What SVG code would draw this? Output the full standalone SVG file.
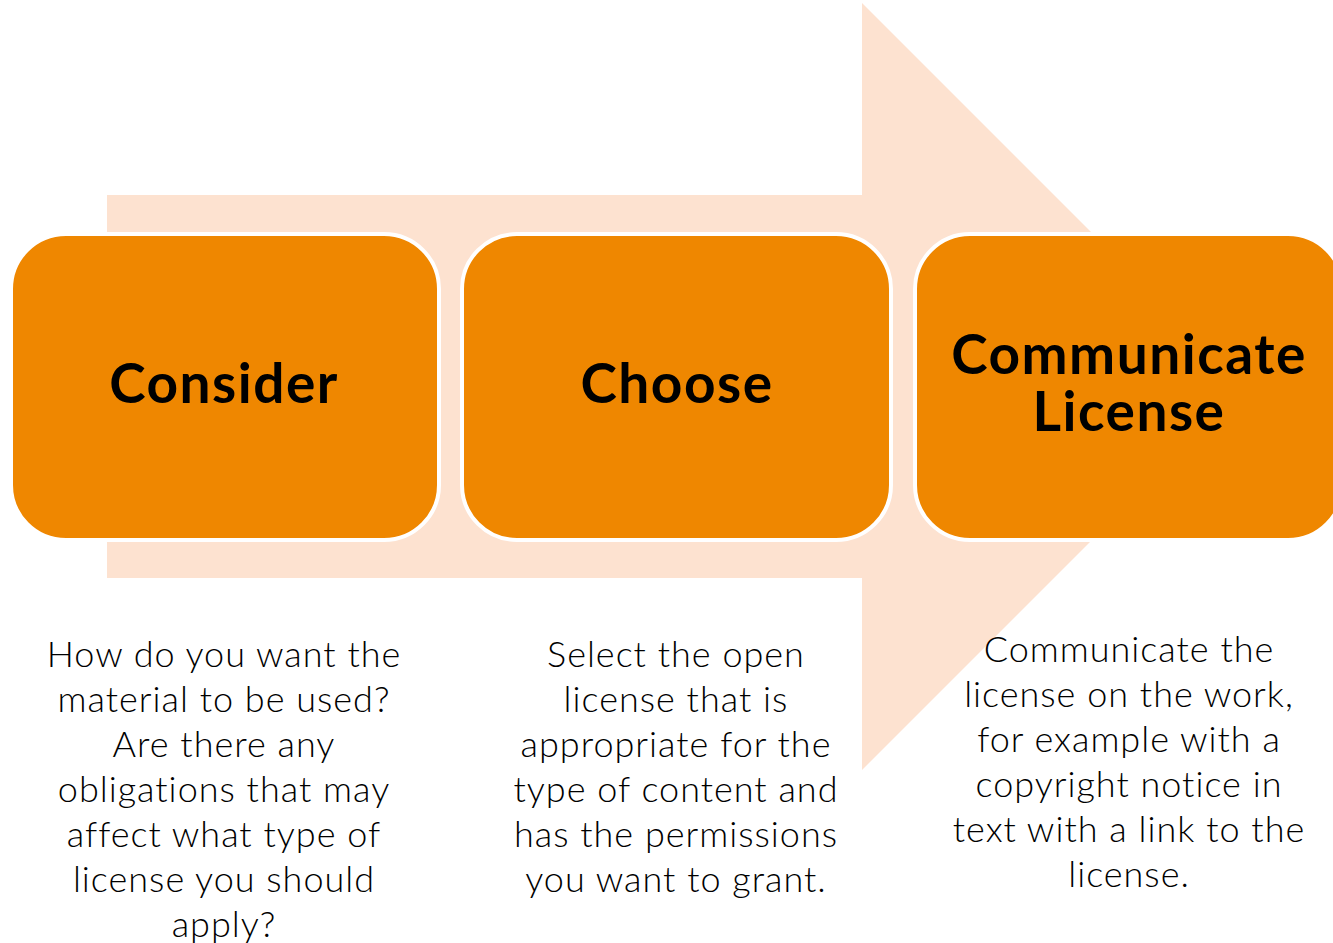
<svg xmlns="http://www.w3.org/2000/svg" width="1333" height="943" viewBox="0 0 1333 943">
<style>
.box{fill:#EF8700;stroke:#FFFFFF;stroke-width:4}
.title{font-family:Lato,"Open Sans",sans-serif;font-weight:700;font-size:55px;letter-spacing:1.5px;fill:#000;text-anchor:middle}
.body{font-family:Lato,"Open Sans",sans-serif;font-weight:300;font-size:36px;letter-spacing:1px;fill:#000;text-anchor:middle}
</style>
<rect width="1333" height="943" fill="#FFFFFF"/>
<g id="arrow">
<polygon points="107,195 862,195 862,3 1245.5,386.5 862,770 862,578 107,578" fill="#FDE2D0"/>
</g>
<g id="connectors"></g>
<g id="node-consider">
<rect class="box" x="11" y="234" width="428" height="306" rx="55" ry="55"/>
<text class="title" x="224" y="403">Consider</text>
</g>
<g id="node-choose">
<rect class="box" x="462" y="234" width="429" height="306" rx="55" ry="55"/>
<text class="title" x="677" y="403">Choose</text>
</g>
<g id="node-communicate">
<rect class="box" x="915" y="234" width="428" height="306" rx="55" ry="55"/>
<text class="title" x="1129" y="374">Communicate</text>
<text class="title" x="1129" y="431">License</text>
</g>
<g id="desc-consider">
<text class="body" x="224" y="667">How do you want the</text>
<text class="body" x="224" y="712">material to be used?</text>
<text class="body" x="224" y="757">Are there any</text>
<text class="body" x="224" y="802">obligations that may</text>
<text class="body" x="224" y="847">affect what type of</text>
<text class="body" x="224" y="892">license you should</text>
<text class="body" x="224" y="937">apply?</text>
</g>
<g id="desc-choose">
<text class="body" x="676" y="667">Select the open</text>
<text class="body" x="676" y="712">license that is</text>
<text class="body" x="676" y="757">appropriate for the</text>
<text class="body" x="676" y="802">type of content and</text>
<text class="body" x="676" y="847">has the permissions</text>
<text class="body" x="676" y="892">you want to grant.</text>
</g>
<g id="desc-communicate">
<text class="body" x="1129" y="662">Communicate the</text>
<text class="body" x="1129" y="707">license on the work,</text>
<text class="body" x="1129" y="752">for example with a</text>
<text class="body" x="1129" y="797">copyright notice in</text>
<text class="body" x="1129" y="842">text with a link to the</text>
<text class="body" x="1129" y="887">license.</text>
</g>
</svg>
